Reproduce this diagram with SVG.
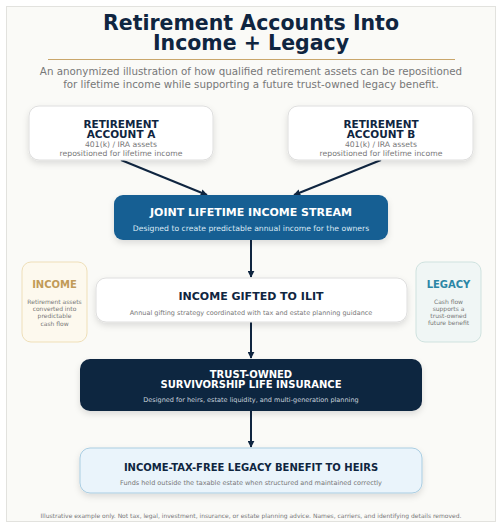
<svg xmlns="http://www.w3.org/2000/svg" width="502" height="528" viewBox="0 0 502 528">
<defs>
<filter id="sh" x="-10%" y="-20%" width="120%" height="150%">
<feDropShadow dx="0" dy="3" stdDeviation="3" flood-color="#000" flood-opacity="0.12"/>
</filter>
<marker id="ah" viewBox="0 0 10 10" refX="9" refY="5" markerWidth="7" markerHeight="7" markerUnits="userSpaceOnUse" orient="auto">
<path d="M0,0 L10,5 L0,10 Z" fill="#0f2540"/>
</marker>
<style>
text{font-family:"DejaVu Sans","Liberation Sans",sans-serif;text-anchor:middle}
.t{font-weight:bold;fill:#0f2540}
.s{fill:#777;}
.w{font-weight:bold;fill:#fff}
.c{stroke:#0f2540;stroke-width:2;fill:none;marker-end:url(#ah)}
</style>
</defs>
<rect x="0" y="0" width="502" height="528" fill="#ffffff"/>
<rect x="6.5" y="6.5" width="489" height="515" fill="#fafaf7" stroke="#e2e2de" stroke-width="1"/>
<text x="251" y="30" class="t" font-size="20.5">Retirement Accounts Into</text>
<text x="251" y="49.5" class="t" font-size="20.5">Income + Legacy</text>
<line x1="48" y1="59.5" x2="455" y2="59.5" stroke="#c9a66b" stroke-width="1.2"/>
<text x="251" y="75" class="s" font-size="10.3">An anonymized illustration of how qualified retirement assets can be repositioned</text>
<text x="251" y="87.5" class="s" font-size="10.3">for lifetime income while supporting a future trust-owned legacy benefit.</text>

<g id="connectors">
<line class="c" x1="121" y1="160" x2="207" y2="195"/>
<line class="c" x1="381" y1="160" x2="294" y2="195"/>
<line class="c" x1="251" y1="240" x2="251" y2="277"/>
<line class="c" x1="251" y1="322" x2="251" y2="358"/>
<line class="c" x1="251" y1="411" x2="251" y2="447"/>
</g>

<g id="accountA">
<rect x="29" y="106" width="184" height="54" rx="10" fill="#fff" stroke="#dedede" filter="url(#sh)"/>
<text x="121" y="128" class="t" font-size="10.5">RETIREMENT</text>
<text x="121" y="137.5" class="t" font-size="10.5">ACCOUNT A</text>
<text x="121" y="147" class="s" font-size="7.7">401(k) / IRA assets</text>
<text x="121" y="155.5" class="s" font-size="7.7">repositioned for lifetime income</text>
</g>
<g id="accountB">
<rect x="288" y="106" width="185" height="54" rx="10" fill="#fff" stroke="#dedede" filter="url(#sh)"/>
<text x="381" y="128" class="t" font-size="10.5">RETIREMENT</text>
<text x="381" y="137.5" class="t" font-size="10.5">ACCOUNT B</text>
<text x="381" y="147" class="s" font-size="7.7">401(k) / IRA assets</text>
<text x="381" y="155.5" class="s" font-size="7.7">repositioned for lifetime income</text>
</g>
<g id="joint">
<rect x="114" y="195" width="274" height="45" rx="9" fill="#175e93" filter="url(#sh)"/>
<text x="251" y="216" class="w" font-size="11">JOINT LIFETIME INCOME STREAM</text>
<text x="251" y="231" fill="#dbe9f4" font-size="7.7">Designed to create predictable annual income for the owners</text>
</g>
<g id="incomeSide">
<rect x="22" y="262" width="65" height="80" rx="9" fill="#fdf9ee" stroke="#efdfb8"/>
<text x="54.5" y="287.5" font-weight="bold" fill="#c19b58" font-size="10">INCOME</text>
<text x="54.5" y="304" class="s" font-size="6">Retirement assets</text>
<text x="54.5" y="311" class="s" font-size="6">converted into</text>
<text x="54.5" y="318" class="s" font-size="6">predictable</text>
<text x="54.5" y="325.5" class="s" font-size="6">cash flow</text>
</g>
<g id="legacySide">
<rect x="416" y="262" width="65" height="80" rx="9" fill="#f0f6f5" stroke="#cfe2df"/>
<text x="448.5" y="287.5" font-weight="bold" fill="#2b86a6" font-size="10">LEGACY</text>
<text x="448.5" y="304" class="s" font-size="6">Cash flow</text>
<text x="448.5" y="311" class="s" font-size="6">supports a</text>
<text x="448.5" y="318" class="s" font-size="6">trust-owned</text>
<text x="448.5" y="325" class="s" font-size="6">future benefit</text>
</g>
<g id="gifted">
<rect x="96" y="278" width="311" height="44" rx="10" fill="#fff" stroke="#dedede" filter="url(#sh)"/>
<text x="251" y="300" class="t" font-size="11">INCOME GIFTED TO ILIT</text>
<text x="251" y="314.5" class="s" font-size="6.5">Annual gifting strategy coordinated with tax and estate planning guidance</text>
</g>
<g id="insurance">
<rect x="80" y="359" width="342" height="52" rx="10" fill="#0f2540" filter="url(#sh)"/>
<text x="251" y="378" class="w" font-size="10">TRUST-OWNED</text>
<text x="251" y="387.5" class="w" font-size="10">SURVIVORSHIP LIFE INSURANCE</text>
<text x="251" y="401.5" fill="#c9d3de" font-size="6.5">Designed for heirs, estate liquidity, and multi-generation planning</text>
</g>
<g id="benefit">
<rect x="80" y="448" width="342" height="45" rx="10" fill="#eaf4fb" stroke="#a9cde2" filter="url(#sh)"/>
<text x="251" y="470.5" class="t" font-size="10">INCOME-TAX-FREE LEGACY BENEFIT TO HEIRS</text>
<text x="251" y="484.5" class="s" font-size="6.5">Funds held outside the taxable estate when structured and maintained correctly</text>
</g>
<text x="251" y="517.5" class="s" font-size="6" fill="#999">Illustrative example only. Not tax, legal, investment, insurance, or estate planning advice. Names, carriers, and identifying details removed.</text>
</svg>
